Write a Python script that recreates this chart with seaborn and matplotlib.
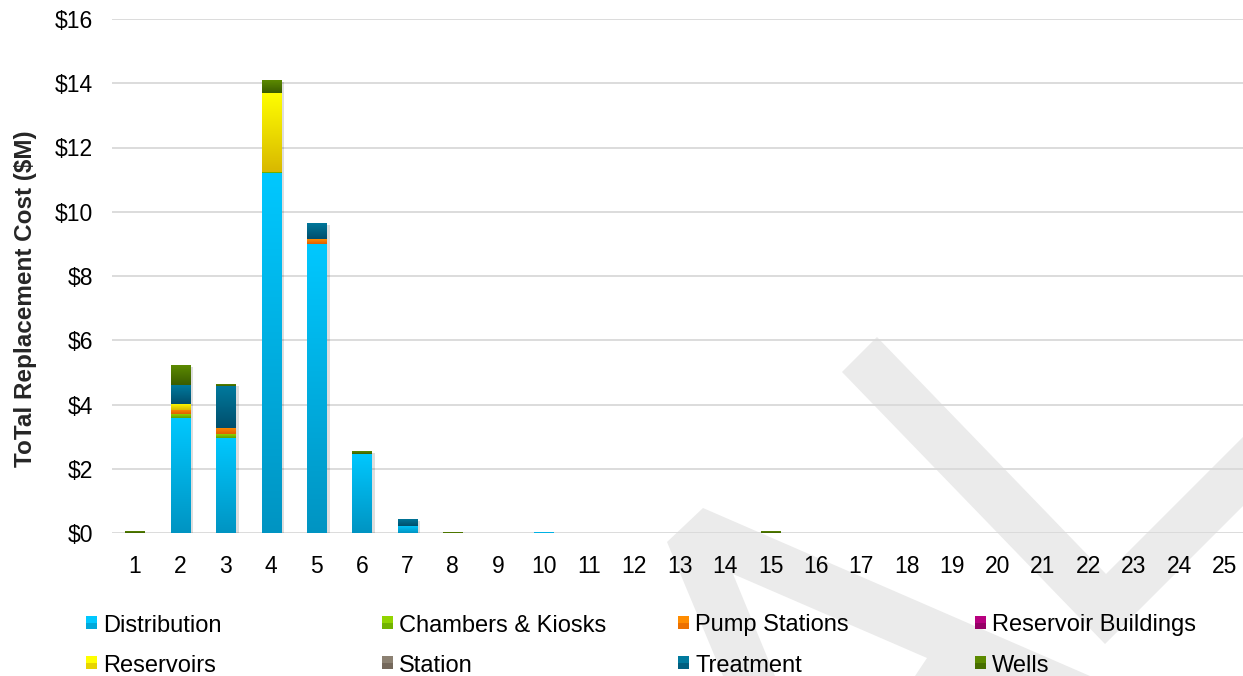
import numpy as np
import matplotlib
matplotlib.use("Agg")
import matplotlib.pyplot as plt
import seaborn as sns
from matplotlib.colors import LinearSegmentedColormap
from matplotlib.patches import Polygon, Rectangle
from matplotlib import patheffects as pe

# ---- data ($M replacement cost per year) ----
years = ["1", "2", "3", "4", "5", "6", "7", "8", "9", "10", "11", "12", "13",
         "14", "15", "16", "17", "18", "19", "20", "21", "22", "23", "24", "25"]

distribution = [0, 3.59, 2.97, 11.21, 9.01, 2.47, 0.22, 0, 0, 0.03, 0, 0, 0,
                0, 0, 0, 0, 0, 0, 0, 0, 0, 0, 0, 0]
chambers_kiosks = [0, 0.12, 0.11, 0.04, 0, 0, 0, 0, 0, 0, 0, 0, 0,
                   0, 0, 0, 0, 0, 0, 0, 0, 0, 0, 0, 0]
pump_stations = [0, 0.13, 0.19, 0, 0.15, 0, 0, 0, 0, 0, 0, 0, 0,
                 0, 0, 0, 0, 0, 0, 0, 0, 0, 0, 0, 0]
reservoir_buildings = [0, 0, 0, 0, 0, 0, 0, 0, 0, 0, 0, 0, 0,
                       0, 0, 0, 0, 0, 0, 0, 0, 0, 0, 0, 0]
reservoirs = [0, 0.19, 0, 2.46, 0, 0, 0, 0, 0, 0, 0, 0, 0,
              0, 0, 0, 0, 0, 0, 0, 0, 0, 0, 0, 0]
station = [0, 0, 0, 0, 0, 0, 0, 0, 0, 0, 0, 0, 0,
           0, 0, 0, 0, 0, 0, 0, 0, 0, 0, 0, 0]
treatment = [0, 0.58, 1.32, 0, 0.50, 0, 0.22, 0, 0, 0, 0, 0, 0,
             0, 0, 0, 0, 0, 0, 0, 0, 0, 0, 0, 0]
wells = [0.05, 0.62, 0.06, 0.40, 0, 0.08, 0, 0.03, 0, 0, 0, 0, 0,
         0, 0.05, 0, 0, 0, 0, 0, 0, 0, 0, 0, 0]

series_names = ["Distribution", "Chambers & Kiosks", "Pump Stations",
                "Reservoir Buildings", "Reservoirs", "Station", "Treatment", "Wells"]
series_values = [distribution, chambers_kiosks, pump_stations, reservoir_buildings,
                 reservoirs, station, treatment, wells]
# (top colour, bottom colour) of each segment's vertical gradient
series_colors = [("#00C8FF", "#0094C2"), ("#92D400", "#5E9E00"),
                 ("#FF8C00", "#E05E00"), ("#B8007F", "#7E0058"),
                 ("#FFFF00", "#D8B800"), ("#8C8172", "#665A4E"),
                 ("#007A9E", "#004E6C"), ("#5C8A00", "#3A5C00")]

y_ticks = [0, 2, 4, 6, 8, 10, 12, 14, 16]
y_tick_labels = ["$0", "$2", "$4", "$6", "$8", "$10", "$12", "$14", "$16"]

# ---- figure ----
sns.set_style("white")
plt.rcParams["font.family"] = ["Liberation Sans", "DejaVu Sans"]

W, H = 1243, 676
fig = plt.figure(figsize=(W / 100, H / 100), dpi=100)
fig.patch.set_facecolor("white")


def fx(px):
    return px / W


def fy(py):
    return 1 - py / H


# faint background emblem
emblem_color = "#EBEBEB"
emblem_shapes = [
    [(842, 372), (877, 337), (1106, 574), (1380, 300), (1449, 300), (1105, 644)],
    [(703, 508), (667, 542), (723, 676), (775, 676), (733, 574), (927, 658),
     (915, 676), (1090, 676)],
]
for shape in emblem_shapes:
    fig.add_artist(Polygon([(fx(x), fy(y)) for x, y in shape], closed=True,
                           transform=fig.transFigure, facecolor=emblem_color,
                           edgecolor="none", zorder=-5))

ax = fig.add_axes([fx(112.3), fy(533), fx(1135), 514 / H])
ax.set_facecolor("none")

bottom = np.zeros(len(years))
for name, vals, (c_top, c_bot) in zip(series_names, series_values, series_colors):
    vals = np.asarray(vals, dtype=float)
    n0 = len(ax.patches)
    sns.barplot(x=years, y=vals, order=years, color=c_top, width=0.42,
                errorbar=None, bottom=bottom, ax=ax, linewidth=0, zorder=2)
    cmap = LinearSegmentedColormap.from_list(name, [c_bot, c_top])
    grad = np.linspace(0, 1, 256).reshape(-1, 1)
    for p in ax.patches[n0:]:
        h = p.get_height()
        if h <= 0:
            p.set_visible(False)
            continue
        p.set_path_effects([pe.SimplePatchShadow(offset=(2.5, -1.5), shadow_rgbFace="black",
                                                 alpha=0.13), pe.Normal()])
        x0, y0 = p.get_x(), p.get_y()
        im = ax.imshow(grad, cmap=cmap, origin="lower", aspect="auto",
                       interpolation="bicubic",
                       extent=(x0, x0 + p.get_width(), y0, y0 + h), zorder=3)
        im.set_clip_path(p)
    bottom = bottom + vals

ax.set_xlim(-0.5, len(years) - 0.5)
ax.set_ylim(0, 16)
ax.set_yticks(y_ticks)
ax.set_yticklabels(y_tick_labels)
ax.yaxis.grid(True, color="#D9D9D9", linewidth=1.3)
ax.xaxis.grid(False)
ax.set_axisbelow(True)
for s in ax.spines.values():
    s.set_visible(False)
ax.tick_params(axis="y", length=0, pad=14, labelsize=16.5, labelcolor="#000000")
ax.tick_params(axis="x", length=0, pad=16, labelsize=16.5, labelcolor="#000000")
ax.set_xlabel("")
ax.set_ylabel("ToTal Replacement Cost ($M)", fontsize=17.5, fontweight="bold")
ax.yaxis.set_label_coords((37 - 112.3) / 1135, (533 - 299) / 514)

# legend, two rows of four entries
legend_cols = [86, 382, 678, 975]
legend_rows = [623, 663]
for i, (name, (c_top, c_bot)) in enumerate(zip(series_names, series_colors)):
    cx = legend_cols[i % 4]
    cy = legend_rows[i // 4]
    fig.add_artist(Rectangle((fx(cx), fy(cy + 6)), 11 / W, 13 / H,
                             transform=fig.transFigure, facecolor=c_top,
                             edgecolor="none"))
    fig.add_artist(Rectangle((fx(cx), fy(cy + 6)), 11 / W, 6 / H,
                             transform=fig.transFigure, facecolor=c_bot,
                             edgecolor="none", alpha=0.6))
    fig.text(fx(cx + 17), fy(cy), name, fontsize=17, va="center_baseline",
             ha="left", color="#000000")

fig.savefig("out.png", dpi=100, facecolor="white")
